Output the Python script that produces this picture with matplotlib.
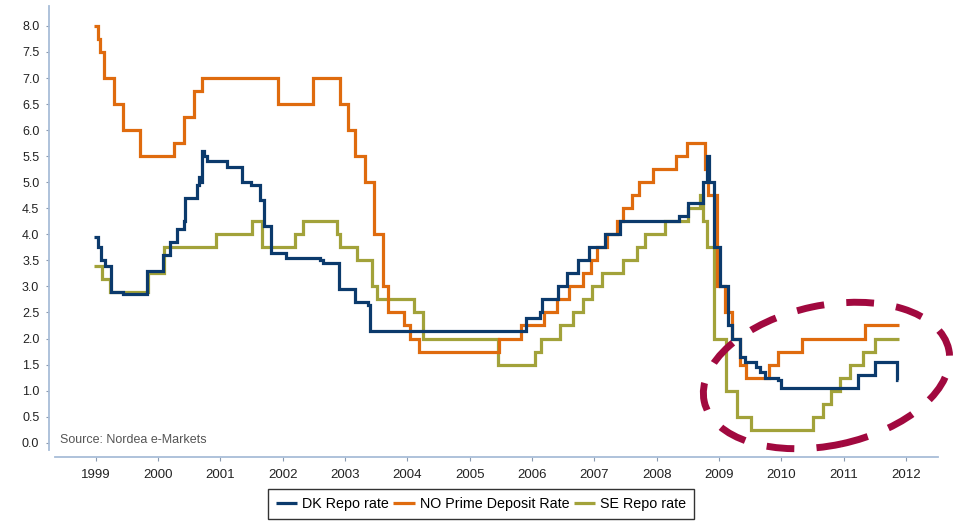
import matplotlib
matplotlib.use('Agg')
import matplotlib.pyplot as plt
from matplotlib.patches import Ellipse

plt.rcParams['font.family'] = ['Liberation Sans', 'DejaVu Sans']

# step-change dates (decimal years) and policy rates
dk_dates = [1998.97, 1999.03, 1999.085, 1999.15, 1999.25, 1999.43, 1999.83, 2000.08, 2000.19,
            2000.30, 2000.41, 2000.43, 2000.62, 2000.65, 2000.69, 2000.71, 2000.74, 2000.78,
            2001.10, 2001.34, 2001.49, 2001.64, 2001.70, 2001.82, 2002.05, 2002.60, 2002.65,
            2002.90, 2003.16, 2003.37, 2003.40, 2005.90, 2006.13, 2006.16, 2006.41, 2006.56,
            2006.74, 2006.92, 2007.17, 2007.41, 2008.36, 2008.51, 2008.75, 2008.80, 2008.84,
            2008.92, 2009.02, 2009.15, 2009.21, 2009.34, 2009.42, 2009.60, 2009.66, 2009.74,
            2009.94, 2010.00, 2011.23, 2011.50, 2011.85, 2011.87]
dk_rates = [3.95, 3.75, 3.5, 3.4, 2.9, 2.85, 3.3, 3.6, 3.85,
            4.1, 4.25, 4.7, 4.95, 5.1, 5.0, 5.6, 5.5, 5.4,
            5.3, 5.0, 4.95, 4.65, 4.15, 3.65, 3.55, 3.5, 3.45,
            2.95, 2.7, 2.65, 2.15, 2.4, 2.5, 2.75, 3.0, 3.25,
            3.5, 3.75, 4.0, 4.25, 4.35, 4.6, 5.0, 5.5, 5.0,
            3.75, 3.0, 2.25, 2.0, 1.65, 1.55, 1.45, 1.35, 1.25,
            1.2, 1.05, 1.3, 1.55, 1.2, 1.2]

no_dates = [1998.97, 1999.04, 1999.07, 1999.14, 1999.30, 1999.43, 1999.71, 2000.26, 2000.42,
            2000.58, 2000.70, 2001.92, 2002.49, 2002.92, 2003.04, 2003.16, 2003.32, 2003.47,
            2003.61, 2003.69, 2003.94, 2004.04, 2004.18, 2005.47, 2005.82, 2006.20, 2006.40,
            2006.60, 2006.81, 2006.94, 2007.05, 2007.20, 2007.37, 2007.46, 2007.60, 2007.72,
            2007.94, 2008.31, 2008.48, 2008.78, 2008.82, 2008.96, 2009.10, 2009.21, 2009.34,
            2009.44, 2009.80, 2009.94, 2010.33, 2011.34, 2011.88]
no_rates = [8.0, 7.75, 7.5, 7.0, 6.5, 6.0, 5.5, 5.75, 6.25,
            6.75, 7.0, 6.5, 7.0, 6.5, 6.0, 5.5, 5.0, 4.0,
            3.0, 2.5, 2.25, 2.0, 1.75, 2.0, 2.25, 2.5, 2.75,
            3.0, 3.25, 3.5, 3.75, 4.0, 4.25, 4.5, 4.75, 5.0,
            5.25, 5.5, 5.75, 5.25, 4.75, 3.0, 2.5, 2.0, 1.5,
            1.25, 1.5, 1.75, 2.0, 2.25, 2.25]

se_dates = [1998.97, 1999.10, 1999.23, 1999.84, 2000.10, 2000.93, 2001.50, 2001.66, 2002.20,
            2002.32, 2002.87, 2002.92, 2003.20, 2003.43, 2003.51, 2004.10, 2004.25, 2005.46,
            2006.05, 2006.14, 2006.45, 2006.66, 2006.82, 2006.97, 2007.13, 2007.46, 2007.68,
            2007.82, 2008.13, 2008.51, 2008.70, 2008.75, 2008.80, 2008.92, 2009.11, 2009.29,
            2009.51, 2010.50, 2010.67, 2010.80, 2010.94, 2011.10, 2011.31, 2011.50, 2011.88]
se_rates = [3.4, 3.15, 2.9, 3.25, 3.75, 4.0, 4.25, 3.75, 4.0,
            4.25, 4.0, 3.75, 3.5, 3.0, 2.75, 2.5, 2.0, 1.5,
            1.75, 2.0, 2.25, 2.5, 2.75, 3.0, 3.25, 3.5, 3.75,
            4.0, 4.25, 4.5, 4.75, 4.25, 3.75, 2.0, 1.0, 0.5,
            0.25, 0.5, 0.75, 1.0, 1.25, 1.5, 1.75, 2.0, 2.0]

years = list(range(1999, 2013))
y_ticks = [0.5 * i for i in range(17)]

dk_col = '#0b3a6c'
no_col = '#df6b0e'
se_col = '#a2a23a'

fig = plt.figure(figsize=(9.55, 5.23), dpi=100)
ax = fig.add_axes([55 / 955, 73 / 523, 883 / 955, 444 / 523])

kw = dict(where='post', lw=2.3, solid_joinstyle='miter', solid_capstyle='butt')
l_se, = ax.step(se_dates, se_rates, color=se_col, label='SE Repo rate', **kw)
l_no, = ax.step(no_dates, no_rates, color=no_col, label='NO Prime Deposit Rate', **kw)
l_dk, = ax.step(dk_dates, dk_rates, color=dk_col, label='DK Repo rate', **kw)

ax.set_xlim(1998.347, 2012.513)
ax.set_ylim(-0.14, 8.382)
ax.set_xticks(years)
ax.set_xticklabels([str(y) for y in years])
ax.set_yticks(y_ticks)
ax.set_yticklabels(['%.1f' % v for v in y_ticks])

for s in ['top', 'right']:
    ax.spines[s].set_visible(False)
ax.spines['left'].set_position(('outward', 4.3))
ax.spines['bottom'].set_position(('outward', 5))
for s in ['left', 'bottom']:
    ax.spines[s].set_color('#a8bdd8')
    ax.spines[s].set_linewidth(1.3)
ax.tick_params(axis='x', length=3, color='#8a9ab0', labelsize=9.5, labelcolor='#222222', pad=5.5)
ax.tick_params(axis='y', length=2, color='#8a9ab0', labelsize=9, labelcolor='#222222', pad=5)

fig.text(60 / 955, 1 - 440 / 523, 'Source: Nordea e-Markets', fontsize=9, color='#555555',
         va='center', ha='left')

# highlight ring around the post-crisis period
ring = Ellipse((8.265, 1.475), 2.5, 1.4, angle=12, fill=False, edgecolor='#a1093f',
               lw=5, linestyle=(0, (4, 3.2)), transform=fig.dpi_scale_trans, clip_on=False)
fig.add_artist(ring)

leg = fig.legend(handles=[l_dk, l_no, l_se], loc='upper center', ncol=3,
                 bbox_to_anchor=(481 / 955, 1 - 489 / 523), fontsize=10.3,
                 frameon=True, fancybox=False, edgecolor='black', handlelength=1.5,
                 handletextpad=0.35, columnspacing=0.3, borderpad=0.55, borderaxespad=0)
leg.get_frame().set_linewidth(1.0)

fig.savefig('out.png', dpi=100)
